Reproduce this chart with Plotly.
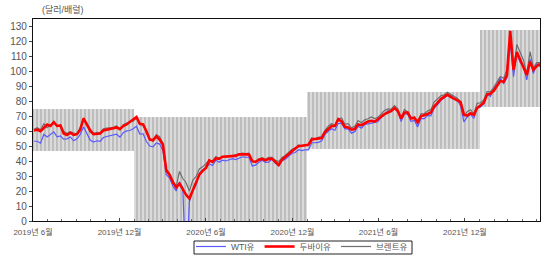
import pandas as pd
import plotly.graph_objects as go

# Weekly (Monday) observations, 2019-06-03 .. 2022-05-09
start_date = "2019-06-03"
wti = [
    53.3, 53.3, 52.0, 58.0, 56.2, 57.7, 59.6, 56.2, 56.9, 54.7, 54.9, 56.2, 53.6, 54.9, 57.9, 62.9,
    58.6, 54.1, 52.8, 53.6, 53.3, 55.8, 56.5, 56.9, 57.1, 58.0, 56.0, 59.0, 60.2, 60.5, 61.7,
    # 2020
    63.3, 58.1, 58.3, 53.1, 50.1, 49.6, 52.1, 51.4, 47.0, 31.1, 28.7, 23.4, 20.1, 26.1, 22.4, -37.6,
    12.8, 20.4, 24.1, 31.8, 34.3, 35.4, 38.2, 37.1, 40.7, 39.3, 40.6, 40.1, 40.8, 41.6, 41.0, 41.9,
    42.9, 42.6, 42.6, 36.8, 37.3, 39.3, 40.6, 39.2, 39.4, 41.5, 38.6, 36.8, 40.3, 41.3, 43.1, 45.3,
    45.8, 47.6, 47.0, 47.6,
    # 2021
    47.6, 52.3, 52.4, 52.6, 53.6, 57.9, 60.0, 61.7, 60.6, 65.1, 65.4, 61.6, 61.6, 58.7, 59.7, 63.4,
    62.0, 64.5, 64.9, 65.5, 66.1, 66.3, 69.2, 70.9, 73.7, 72.9, 75.2, 74.1, 66.4, 71.9, 71.3, 66.5,
    67.3, 62.8, 68.5, 68.4, 70.5, 70.3, 75.5, 77.6, 80.5, 82.4, 83.8, 84.1, 81.9, 80.9, 76.8, 66.2,
    69.5, 71.3, 68.6, 75.6,
    # 2022
    76.1, 78.2, 84.8, 83.3, 88.2, 91.3, 95.5, 91.9, 95.7, 119.4, 96.4, 112.1, 105.9, 103.3, 94.3,
    108.2, 98.5, 105.2, 103.1,
]
dubai = [
    60.5, 61.0, 60.0, 62.5, 64.5, 63.5, 66.0, 63.5, 63.8, 58.5, 57.5, 59.0, 57.5, 58.0, 61.0, 68.5,
    64.5, 60.5, 58.0, 58.0, 58.5, 60.5, 61.0, 61.5, 62.0, 62.5, 61.5, 63.5, 64.5, 66.0, 67.5,
    # 2020
    69.5, 65.0, 64.5, 60.0, 54.5, 54.0, 56.5, 54.5, 51.0, 34.0, 31.0, 26.0, 22.5, 25.0, 21.0, 17.5,
    15.0, 20.5, 26.0, 31.0, 33.5, 35.5, 40.5, 39.5, 42.0, 41.5, 43.0, 43.0, 43.5, 43.0, 43.5, 44.5,
    44.5, 44.5, 44.5, 40.0, 39.5, 41.0, 41.5, 40.5, 41.5, 41.5, 39.5, 37.5, 41.0, 43.0, 45.0, 47.0,
    48.5, 50.0, 50.5, 50.5,
    # 2021
    51.0, 54.5, 55.0, 55.0, 55.5, 59.5, 61.5, 63.5, 63.5, 68.0, 66.5, 63.0, 62.5, 61.0, 61.5, 64.5,
    64.0, 65.5, 66.5, 67.0, 66.5, 68.0, 70.0, 71.5, 72.5, 73.5, 75.5, 73.5, 68.5, 72.5, 72.5, 68.5,
    69.0, 66.0, 70.0, 70.5, 71.5, 72.5, 76.5, 79.0, 81.5, 83.0, 84.5, 83.0, 82.0, 81.0, 79.5, 71.0,
    70.5, 72.0, 71.0, 75.5,
    # 2022
    77.0, 79.0, 84.5, 85.0, 87.0, 90.0, 93.5, 93.0, 97.5, 127.0, 101.0, 113.0, 108.0, 102.0, 97.5,
    106.5, 101.0, 103.5, 105.0,
]
brent = [
    61.3, 62.3, 60.9, 64.9, 62.4, 64.1, 66.5, 63.3, 64.0, 59.8, 58.6, 59.7, 58.7, 58.3, 62.6, 69.0,
    64.8, 59.3, 58.4, 59.3, 58.9, 61.6, 62.1, 62.2, 62.4, 63.6, 60.9, 64.3, 65.3, 66.4, 66.7,
    # 2020
    68.9, 64.2, 64.6, 59.3, 54.5, 53.3, 57.7, 56.3, 51.9, 34.4, 30.1, 27.0, 23.0, 33.1, 28.4, 25.6,
    20.0, 27.2, 29.6, 34.8, 36.2, 38.3, 40.8, 39.7, 43.1, 41.7, 43.1, 42.7, 43.3, 43.4, 44.2, 44.9,
    45.4, 45.1, 45.3, 39.8, 39.6, 41.4, 42.4, 41.3, 42.5, 42.6, 40.5, 39.7, 42.4, 43.8, 46.1, 47.9,
    48.8, 50.8, 50.1, 50.9,
    # 2021
    51.1, 55.7, 54.8, 55.9, 56.4, 60.6, 63.3, 65.2, 63.7, 68.2, 68.9, 64.6, 65.0, 62.2, 63.3, 67.1,
    65.7, 67.6, 68.3, 69.5, 68.5, 69.3, 71.5, 73.9, 74.9, 74.7, 77.2, 75.2, 68.6, 74.5, 72.9, 69.0,
    69.5, 65.8, 71.6, 71.7, 73.5, 74.4, 79.5, 81.3, 83.7, 84.3, 86.0, 84.7, 83.4, 82.0, 79.7, 70.0,
    73.1, 74.4, 71.5, 78.6,
    # 2022
    79.0, 80.9, 86.5, 86.3, 89.3, 92.7, 96.5, 95.4, 101.0, 123.2, 99.9, 118.0, 112.5, 107.5, 98.5,
    113.2, 102.3, 105.9, 105.9,
]

# Shaded range bands by period
band_start = ["2019-06-01", "2020-01-01", "2021-01-01", "2022-01-01"]
band_end = ["2020-01-01", "2021-01-01", "2022-01-01", "2022-05-09"]
band_low = [46.5, 0.0, 48.0, 76.0]
band_high = [75.0, 69.8, 86.2, 127.5]

x_range = ["2019-06-01", "2022-05-09"]
y_ticks = list(range(0, 131, 10))

dates = pd.date_range(start_date, periods=len(wti), freq="7D")

bs = pd.to_datetime(band_start)
be = pd.to_datetime(band_end)
mid = bs + (be - bs) / 2
widths = [(e - s).total_seconds() * 1000 for s, e in zip(bs, be)]

FONT = "Liberation Sans, Arial, Noto Sans CJK KR, sans-serif"

fig = go.Figure()
fig.add_trace(go.Bar(
    x=mid, y=[h - l for h, l in zip(band_high, band_low)], base=band_low, width=widths,
    marker=dict(color="#bdbdbd", line=dict(width=0),
                pattern=dict(shape="|", fillmode="replace", bgcolor="#bdbdbd",
                             fgcolor="#efefef", size=4, solidity=0.3)),
    showlegend=False, hoverinfo="skip",
))
fig.add_trace(go.Scatter(x=dates, y=wti, mode="lines", name="WTI유",
                         line=dict(color="#5a5aff", width=1.2), legendrank=1))
fig.add_trace(go.Scatter(x=dates, y=brent, mode="lines", name="브렌트유",
                         line=dict(color="#6e6e6e", width=1.2), legendrank=3))
fig.add_trace(go.Scatter(x=dates, y=dubai, mode="lines", name="두바이유",
                         line=dict(color="#ff0000", width=2.6), legendrank=2))

fig.update_layout(
    width=550, height=257,
    margin=dict(l=33, r=10, t=19, b=36, autoexpand=False),
    paper_bgcolor="white", plot_bgcolor="white",
    font=dict(family=FONT, size=9, color="#444"),
    showlegend=True,
    legend=dict(orientation="h", xref="container", yref="container",
                x=302 / 550, xanchor="center", y=(257 - 232) / 257, yanchor="top",
                borderwidth=0, bgcolor="rgba(0,0,0,0)",
                font=dict(size=8.5, color="#555"), itemwidth=30,
                tracegroupgap=0),
    bargap=0,
)
# legend frame
fig.add_shape(type="rect", xref="paper", yref="paper",
              x0=(194 - 33) / 507, x1=(412 - 33) / 507,
              y0=(221 - 241) / 202, y1=(221 - 254) / 202,
              line=dict(color="#222", width=1), fillcolor="rgba(0,0,0,0)", layer="above")

fig.update_xaxes(
    type="date", range=x_range, showgrid=False,
    showline=True, linecolor="#111", linewidth=1.2, mirror=True,
    tick0="2019-06-01", dtick="M6", tickformat="%Y년 %-m월",
    ticks="inside", ticklen=3, tickcolor="#444", ticklabelstandoff=3,
    minor=dict(dtick="M1", ticks="inside", ticklen=2, tickcolor="#666"),
    tickfont=dict(size=8, color="#555"),
)
fig.update_yaxes(
    range=[0, 135], tickvals=y_ticks, showgrid=False, zeroline=False,
    showline=True, linecolor="#111", linewidth=1.2, mirror=True,
    ticks="outside", ticklen=3, tickcolor="#444",
    tickfont=dict(size=10, color="#555"),
)
fig.add_annotation(text="(달러/배럴)", xref="paper", yref="paper",
                   x=(40 - 33) / 507, y=1 + (19 - 10) / 202, xanchor="left", yanchor="middle",
                   showarrow=False, font=dict(size=9, color="#555"))

fig.write_html("out.html")
